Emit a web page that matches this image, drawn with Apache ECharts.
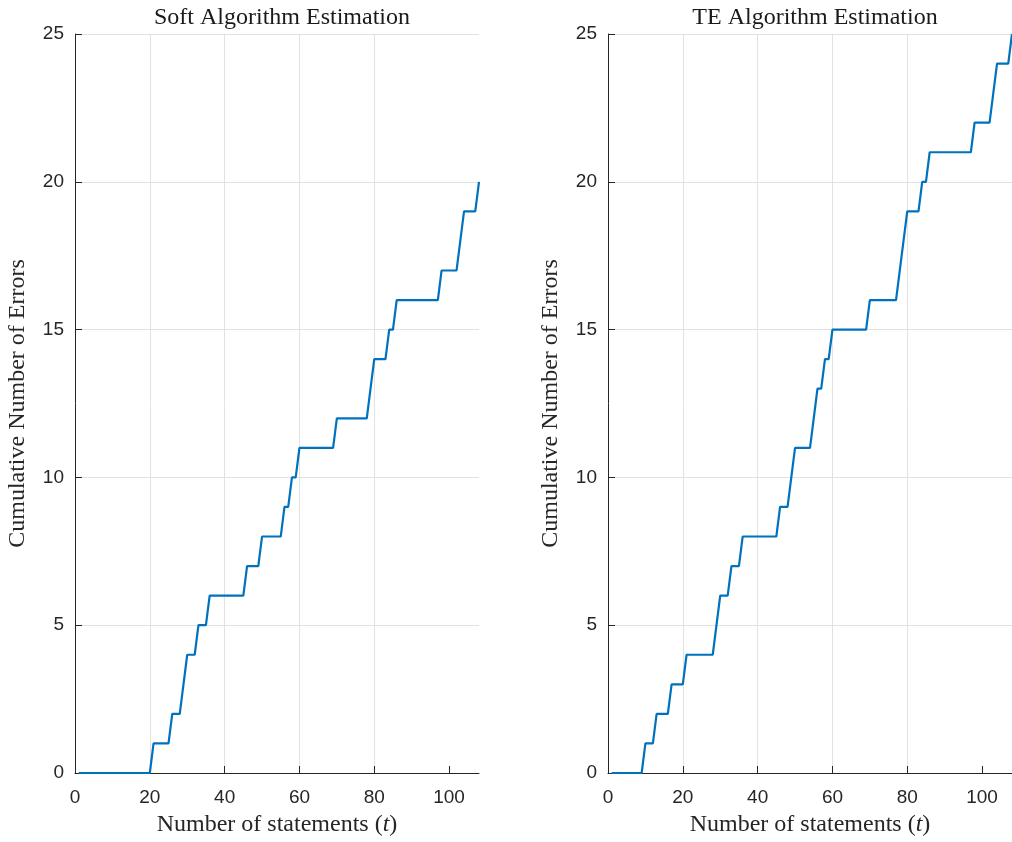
<!DOCTYPE html>
<html>
<head>
<meta charset="utf-8">
<title>Cumulative Number of Errors</title>
<script src="https://cdn.jsdelivr.net/npm/echarts@6/dist/echarts.min.js"></script>
<style>
  html, body { margin: 0; padding: 0; background: #ffffff; }
  #chart { width: 1012px; height: 842px; }
</style>
</head>
<body>
<div id="chart"></div>
<script>
// Cumulative error counts after each statement t = 1 .. 108
const softErrors = [
  0, 0, 0, 0, 0, 0, 0, 0, 0, 0, 0, 0, 0, 0, 0, 0, 0, 0, 0, 0,
  1, 1, 1, 1, 1, 2, 2, 2, 3, 4, 4, 4, 5, 5, 5,
  6, 6, 6, 6, 6, 6, 6, 6, 6, 6,
  7, 7, 7, 7,
  8, 8, 8, 8, 8, 8,
  9, 9, 10, 10,
  11, 11, 11, 11, 11, 11, 11, 11, 11, 11,
  12, 12, 12, 12, 12, 12, 12, 12, 12,
  13, 14, 14, 14, 14, 15, 15,
  16, 16, 16, 16, 16, 16, 16, 16, 16, 16, 16, 16,
  17, 17, 17, 17, 17, 18, 19, 19, 19, 19, 20
];

const teErrors = [
  0, 0, 0, 0, 0, 0, 0, 0, 0,
  1, 1, 1, 2, 2, 2, 2, 3, 3, 3, 3,
  4, 4, 4, 4, 4, 4, 4, 4,
  5, 6, 6, 6, 7, 7, 7,
  8, 8, 8, 8, 8, 8, 8, 8, 8, 8,
  9, 9, 9, 10, 11, 11, 11, 11, 11, 12, 13, 13, 14, 14,
  15, 15, 15, 15, 15, 15, 15, 15, 15, 15,
  16, 16, 16, 16, 16, 16, 16, 16,
  17, 18, 19, 19, 19, 19, 20, 20,
  21, 21, 21, 21, 21, 21, 21, 21, 21, 21, 21, 21,
  22, 22, 22, 22, 22, 23, 24, 24, 24, 24, 25
];

const panelTitles = ['Soft Algorithm Estimation', 'TE Algorithm Estimation'];
const xTicks = [0, 20, 40, 60, 80, 100];
const yTicks = [0, 5, 10, 15, 20, 25];
const xMax = 108;
const yMax = 25;

const SERIF = '"Liberation Serif", "DejaVu Serif", serif';
const SANS = '"Liberation Sans", Arial, Helvetica, sans-serif';
const INK = '#262626';
const GRID_LINE = '#e2e2e2';
const LINE_BLUE = '#0072BD';

const chart = echarts.init(document.getElementById('chart'), null, { renderer: 'canvas' });

// statement index t for each count
const toPoints = counts => counts.map((v, i) => [i + 1, v]);

const panelLeft = [75, 608];
const panelWidth = 404;
const panelTop = 34;
const panelHeight = 739;

const nameRich = {
  n: { fontFamily: SERIF, fontSize: 24, color: INK },
  i: { fontFamily: SERIF, fontSize: 24, color: INK, fontStyle: 'italic' }
};

function makeXAxis(idx) {
  return {
    type: 'value',
    gridIndex: idx,
    min: 0,
    max: xMax,
    interval: 20,
    name: '{n|Number of statements (}{i|t}{n|)}',
    nameLocation: 'middle',
    nameGap: 40,
    nameTextStyle: { rich: nameRich },
    axisLine: { show: true, onZero: false, lineStyle: { color: INK, width: 1 } },
    axisTick: { show: true, inside: true, length: 7, customValues: xTicks, lineStyle: { color: INK, width: 1 } },
    axisLabel: { customValues: xTicks, margin: 15, fontFamily: SANS, fontSize: 19, color: INK },
    splitLine: { show: true, showMinLine: false, showMaxLine: false, lineStyle: { color: GRID_LINE, width: 1 } }
  };
}

function makeYAxis(idx) {
  return {
    type: 'value',
    gridIndex: idx,
    min: 0,
    max: yMax,
    interval: 5,
    name: '{n|Cumulative Number of Errors}',
    nameLocation: 'middle',
    nameGap: 45,
    nameRotate: 90,
    nameTextStyle: { rich: nameRich },
    axisLine: { show: true, onZero: false, lineStyle: { color: INK, width: 1 } },
    axisTick: { show: true, inside: true, length: 7, customValues: yTicks, lineStyle: { color: INK, width: 1 } },
    axisLabel: { customValues: yTicks, margin: 11, fontFamily: SANS, fontSize: 19, color: INK },
    splitLine: { show: true, showMinLine: false, lineStyle: { color: GRID_LINE, width: 1 } }
  };
}

const seriesData = [softErrors, teErrors];

const option = {
  animation: false,
  backgroundColor: '#ffffff',
  title: panelTitles.map((t, i) => ({
    text: t,
    left: panelLeft[i] + panelWidth / 2,
    top: 1,
    textAlign: 'center',
    textStyle: { fontFamily: SERIF, fontSize: 24, fontWeight: 'normal', color: '#1a1a1a' }
  })),
  grid: panelLeft.map(l => ({ left: l, top: panelTop, width: panelWidth, height: panelHeight, containLabel: false })),
  xAxis: [makeXAxis(0), makeXAxis(1)],
  yAxis: [makeYAxis(0), makeYAxis(1)],
  series: seriesData.map((counts, i) => ({
    type: 'line',
    xAxisIndex: i,
    yAxisIndex: i,
    data: toPoints(counts),
    showSymbol: false,
    symbol: 'none',
    clip: false,
    lineStyle: { color: LINE_BLUE, width: 2.2 },
    emphasis: { disabled: true }
  }))
};

chart.setOption(option);
</script>
</body>
</html>
